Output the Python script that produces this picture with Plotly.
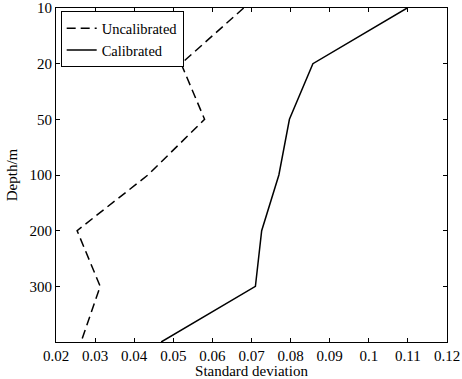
import plotly.graph_objects as go

depths = [10, 20, 50, 100, 200, 300, 400]
uncalibrated = [0.068, 0.052, 0.058, 0.0435, 0.0254, 0.0313, 0.0264]
calibrated = [0.1098, 0.0857, 0.0797, 0.077, 0.0726, 0.071, 0.0469]
tick_labels = ["10", "20", "50", "100", "200", "300"]
x_ticks = [0.02, 0.03, 0.04, 0.05, 0.06, 0.07, 0.08, 0.09, 0.10, 0.11, 0.12]
x_tick_labels = ["0.02", "0.03", "0.04", "0.05", "0.06", "0.07", "0.08", "0.09", "0.1", "0.11", "0.12"]

ypos = list(range(len(depths)))

fig = go.Figure()
fig.add_trace(go.Scatter(x=uncalibrated, y=ypos, mode="lines", name="Uncalibrated",
                         line=dict(color="black", width=1.5, dash="9px,5px")))
fig.add_trace(go.Scatter(x=calibrated, y=ypos, mode="lines", name="Calibrated",
                         line=dict(color="black", width=1.5)))

font = dict(family="Liberation Serif", size=15, color="black")
legend_font = dict(family="Liberation Serif", size=14.5, color="black")
title_font = dict(family="Liberation Serif", size=15, color="black")
fig.update_layout(
    width=462, height=379,
    margin=dict(l=56, r=15, t=8, b=37, autoexpand=False),
    paper_bgcolor="white", plot_bgcolor="white",
    font=font,
    showlegend=True,
    legend=dict(x=0.012, y=0.99, xanchor="left", yanchor="top",
                bordercolor="black", borderwidth=1, bgcolor="white",
                font=legend_font, itemwidth=30, tracegroupgap=0),
    xaxis=dict(range=[0.02, 0.12], tickvals=x_ticks, ticktext=x_tick_labels,
               ticks="inside", ticklen=4, tickcolor="black", mirror="ticks",
               showline=True, linecolor="black", linewidth=1, showgrid=False,
               zeroline=False, automargin=False, tickfont=font,
               title=dict(text="Standard deviation", standoff=5, font=title_font)),
    yaxis=dict(range=[len(depths) - 1, 0], tickvals=ypos[:len(tick_labels)], ticktext=tick_labels,
               ticks="inside", ticklen=4, tickcolor="black", mirror="ticks",
               showline=True, linecolor="black", linewidth=1, showgrid=False,
               zeroline=False, automargin=False, tickfont=font,
               title=dict(text="Depth/m", standoff=8, font=title_font)),
)
fig.write_html("out.html", config={"displayModeBar": False},
               post_script="document.body.style.margin='0';document.body.style.overflow='hidden';")
